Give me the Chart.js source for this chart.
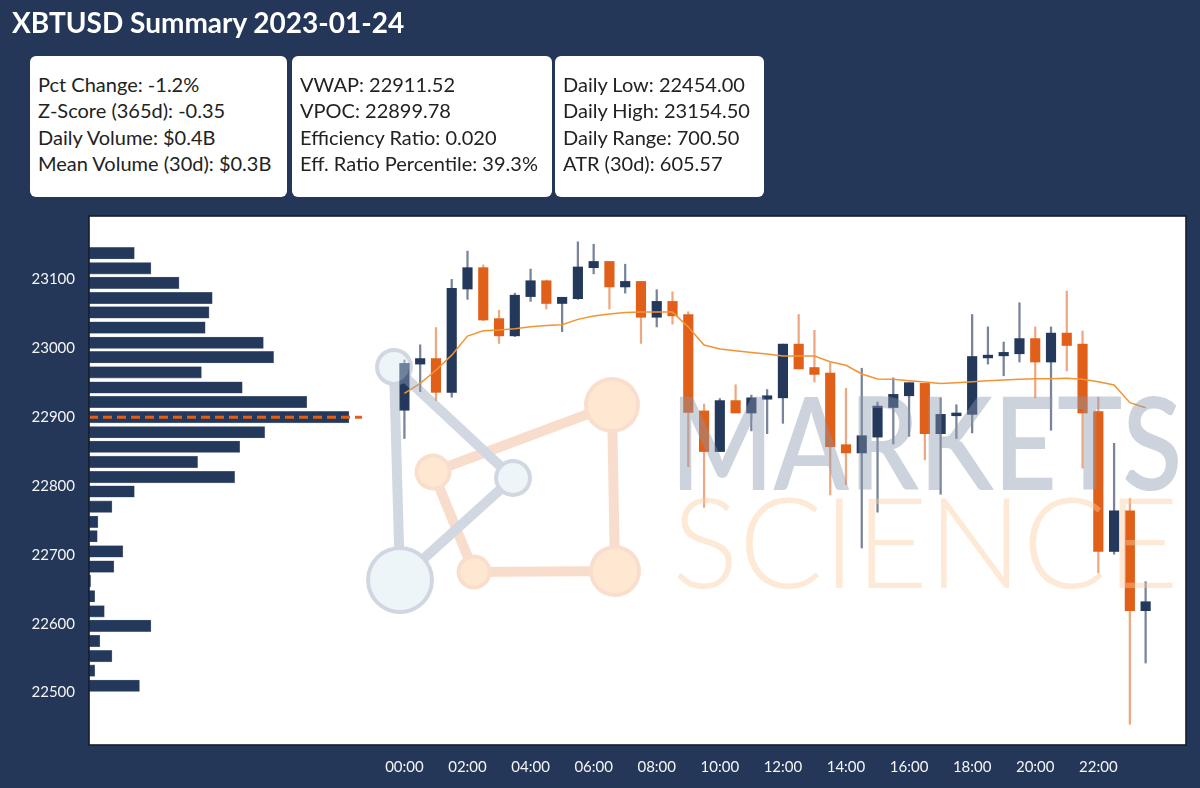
<!DOCTYPE html>
<html><head><meta charset="utf-8">
<script src="https://cdn.jsdelivr.net/npm/chart.js@4.4.0/dist/chart.umd.min.js"></script>
<style>
html,body{margin:0;padding:0;background:#243759;width:1200px;height:788px;overflow:hidden;font-family:Lato,'Open Sans',sans-serif;}
#wrap{position:relative;width:1200px;height:788px;}
#c{position:absolute;left:0;top:0;}
#title{position:absolute;left:12px;top:5px;color:#fff;font-weight:700;font-size:28px;white-space:nowrap;}
.box{position:absolute;top:56px;height:141px;background:#fff;border-radius:6px;box-sizing:border-box;padding:15px 0 0 8px;color:#222;font-size:20px;line-height:26.4px;white-space:nowrap;}
</style></head>
<body><div id="wrap"><canvas id="c" width="1200" height="788"></canvas>
<div id="title">XBTUSD Summary 2023-01-24</div>
<div class="box" id="b1" style="left:30px;width:257px"></div>
<div class="box" id="b2" style="left:292px;width:260px"></div>
<div class="box" id="b3" style="left:555px;width:209px"></div>
</div>
<script>
// ---------- DATA ----------
const statsBox1 = ['Pct Change: -1.2%', 'Z-Score (365d): -0.35', 'Daily Volume: $0.4B', 'Mean Volume (30d): $0.3B'];
const statsBox2 = ['VWAP: 22911.52', 'VPOC: 22899.78', 'Efficiency Ratio: 0.020', 'Eff. Ratio Percentile: 39.3%'];
const statsBox3 = ['Daily Low: 22454.00', 'Daily High: 23154.50', 'Daily Range: 700.50', 'ATR (30d): 605.57'];

const times = ['00:00','00:30','01:00','01:30','02:00','02:30','03:00','03:30','04:00','04:30','05:00','05:30',
  '06:00','06:30','07:00','07:30','08:00','08:30','09:00','09:30','10:00','10:30','11:00','11:30',
  '12:00','12:30','13:00','13:30','14:00','14:30','15:00','15:30','16:00','16:30','17:00','17:30',
  '18:00','18:30','19:00','19:30','20:00','20:30','21:00','21:30','22:00','22:30','23:00','23:30'];
const opens  = [22910,22977,22985,22936,23086,23117,23043,23018,23075,23098,23065,23072,
                23117,23126,23089,23097,23045,23068,23049,22909,22850,22924,22906,22926,
                22928,23006,22972,22964,22860,22848,22871,22914,22931,22949,22876,22902,
                22904,22986,22989,22992,23014,22980,23022,23006,22908,22705,22764,22619];
const highs  = [22983,23005,23030,23100,23141,23121,23055,23080,23115,23099,23074,23154.5,
                23151,23126,23122,23097,23085,23082,23053,22919,22927,22947,22932,22940,
                23006,23049,23026,22979,22942,22971,22922,22957,22950,22949,22928,22918,
                23049,23031,23009,23066,23031,23031,23083,23025,22929,22862,22782,22661];
const lows   = [22869,22937,22924,22929,23071,23040,23007,23017,23068,23057,23024,23071,
                23108,23057,23080,23007,23031,23035,22828,22769,22850,22906,22880,22876,
                22891,22970,22951,22787,22802,22710,22762,22861,22872,22838,22788,22869,
                22877,22977,22960,22980,22928,22881,22967,22826,22674,22701,22454,22543];
const closes = [22978,22985,22936,23087,23117,23041,23018,23077,23098,23065,23074,23118,
                23126,23089,23097,23045,23068,23047,22907,22850,22924,22906,22928,22931,
                23006,22970,22962,22857,22848,22873,22916,22933,22950,22876,22904,22906,
                22988,22990,22994,23014,22980,23022,23004,22906,22705,22764,22619,22632];
const vwap   = [22934.5,22949,22968,22990,23017.7,23025.4,23026.4,23028.3,23031.2,23033.2,23034.1,23041.9,
                23046.7,23049.6,23052,23052.5,23052.5,23052.5,23031,23004.6,22998.8,22996.4,22994,22991.6,
                22988.7,22988.7,22988.7,22980.4,22975.2,22962.6,22955.3,22954.9,22952.8,22951,22949,22950,
                22951.4,22952.8,22953.8,22954.9,22955.8,22955.8,22956.3,22954.9,22951.4,22946.6,22921,22913.7];

// volume profile (price level, $M)
const profilePrices = [23138,23116,23095,23073,23052,23030,23008,22987,22965,22943,22922,22900,
                       22878,22857,22835,22813,22792,22770,22748,22727,22705,22683,22662,22640,
                       22618,22597,22575,22553,22532,22510];
const profileVolumes = [7.1,9.7,14.1,19.3,18.8,18.2,27.3,28.9,17.6,24.0,34.1,40.7,
                        27.5,23.6,17.0,22.8,7.1,3.6,1.4,1.3,5.3,3.9,0.25,0.9,
                        2.4,9.7,1.7,3.6,0.9,7.9];
const vpoc = 22899.78;

const yTicks = [22500,22600,22700,22800,22900,23000,23100];
const xTickLabels = ['00:00','02:00','04:00','06:00','08:00','10:00','12:00','14:00','16:00','18:00','20:00','22:00'];

// ---------- STYLE ----------
const NAVY = '#23385b', ORANGE = '#e0601a';
const NAVY_WICK = 'rgba(35,56,91,0.62)', ORANGE_WICK = 'rgba(224,96,26,0.55)';
const toHours = s => parseInt(s.slice(0,2),10) + parseInt(s.slice(3),10)/60;

[['b1',statsBox1],['b2',statsBox2],['b3',statsBox3]].forEach(([id,arr])=>{
  document.getElementById(id).innerHTML = arr.map(t=>'<div>'+t.replace(/&/g,'&amp;')+'</div>').join('');
});

const tH = times.map(toHours);
const up = opens.map((o,i)=>closes[i] >= o);
const maxVol = Math.max(...profileVolumes);

Chart.defaults.font.family = 'Lato, "Open Sans", sans-serif';

function buildWatermark(){
  const oc = document.createElement('canvas');
  oc.width = 1200; oc.height = 788;
  const g = oc.getContext('2d');
  const line = (a,b,c,d)=>{g.beginPath();g.moveTo(a,b);g.lineTo(c,d);g.stroke();};
  const node = (x,y,r,fill,ring)=>{g.beginPath();g.arc(x,y,r,0,Math.PI*2);g.fillStyle=ring;g.fill();
    g.beginPath();g.arc(x,y,r-4,0,Math.PI*2);g.fillStyle=fill;g.fill();};
  g.lineCap = 'round';
  // orange network
  g.strokeStyle = 'rgb(242,175,136)'; g.lineWidth = 10;
  line(433,472,612,405); line(433,472,474,572); line(474,572,615,571); line(612,405,615,571);
  const oF='rgb(253,202,150)', oR='rgb(245,178,138)';
  node(433,472,18.5,oF,oR); node(474,572,17.5,oF,oR); node(612,405,28,oF,oR); node(615,571,26,oF,oR);
  // gray network
  g.strokeStyle = 'rgb(150,163,184)'; g.lineWidth = 10;
  line(394,367,400,580); line(394,367,513,478); line(513,478,400,580);
  const gF='rgb(214,232,243)', gR='rgb(148,162,185)';
  node(394,367,19,gF,gR); node(513,478,19,gF,gR); node(400,580,34,gF,gR);
  // text
  const txt = (s, weight, color, x0, x1, base, cap)=>{
    const fs = cap/0.7165;
    g.font = weight+' '+fs+'px Lato, "Open Sans", sans-serif';
    const m = g.measureText(s);
    const w = m.actualBoundingBoxLeft + m.actualBoundingBoxRight;
    const sx = (x1-x0)/w;
    g.save(); g.translate(x0, base); g.scale(sx,1);
    g.fillStyle = color; g.textBaseline='alphabetic';
    g.fillText(s, m.actualBoundingBoxLeft, 0);
    g.restore();
  };
  txt('MARKETS', 600, 'rgb(138,151,173)', 679, 1178, 490, 92);
  txt('SCIENCE', 300, 'rgb(253,204,158)', 677, 1173, 588, 90);
  return oc;
}
let wm = null;

const framePlugin = {
  id:'frame',
  beforeDraw(chart){
    const {ctx, chartArea:a} = chart;
    ctx.save(); ctx.fillStyle='#ffffff'; ctx.fillRect(a.left,a.top,a.right-a.left,a.bottom-a.top); ctx.restore();
  },
  afterDatasetsDraw(chart){
    const {ctx, chartArea:a} = chart;
    if(!wm) wm = buildWatermark();
    ctx.save();
    ctx.beginPath(); ctx.rect(a.left,a.top,a.right-a.left,a.bottom-a.top); ctx.clip();
    ctx.globalAlpha = 0.42; ctx.drawImage(wm,0,0);
    ctx.restore();
    ctx.save(); ctx.strokeStyle='#151d2b'; ctx.lineWidth=1.6;
    ctx.strokeRect(a.left,a.top,a.right-a.left,a.bottom-a.top); ctx.restore();
  }
};

new Chart(document.getElementById('c'), {
  type:'bar',
  data:{
    datasets:[
      { type:'bar', label:'Volume profile', indexAxis:'y', xAxisID:'xv', yAxisID:'y',
        data: profilePrices.map((p,i)=>({x:profileVolumes[i], y:p})),
        backgroundColor: NAVY, borderColor:'rgba(90,105,130,0.9)', borderWidth:0.6, borderSkipped:false,
        barThickness:11.5, grouped:false, order:5 },
      { type:'line', label:'VPOC', xAxisID:'xv', yAxisID:'y',
        data:[{x:0,y:vpoc},{x:maxVol*1.05,y:vpoc}],
        borderColor:ORANGE, borderWidth:3, borderDash:[9,5], pointRadius:0, order:4 },
      { type:'bar', label:'Wicks', xAxisID:'x', yAxisID:'y',
        data: tH.map((t,i)=>({x:t, y:[lows[i], highs[i]]})),
        backgroundColor: up.map(u=>u?NAVY_WICK:ORANGE_WICK), barThickness:1.6, grouped:false, order:3 },
      { type:'bar', label:'Bodies', xAxisID:'x', yAxisID:'y',
        data: tH.map((t,i)=>({x:t, y:[opens[i], closes[i]]})),
        backgroundColor: up.map(u=>u?NAVY:ORANGE), barThickness:9.5, minBarLength:1.5, grouped:false, order:2 },
      { type:'line', label:'VWAP', xAxisID:'x', yAxisID:'y',
        data: tH.map((t,i)=>({x:t, y:vwap[i]})),
        borderColor:'#f39433', borderWidth:1.5, pointRadius:0, tension:0, order:1 }
    ]
  },
  options:{
    responsive:false, animation:false, devicePixelRatio:1,
    layout:{padding:{top:216, right:14, bottom:0, left:0}},
    plugins:{legend:{display:false}, tooltip:{enabled:false}},
    scales:{
      x:{ type:'linear', position:'bottom', min:-10, max:24.78, offset:false,
          grid:{display:false, drawTicks:false}, border:{display:false},
          afterBuildTicks: s => { s.ticks = xTickLabels.map(l=>({value:toHours(l)})); },
          afterFit: s => { s.height = 43; },
          ticks:{ color:'#f4f4f4', font:{size:15}, padding:13, autoSkip:false, maxRotation:0,
                  callback:(v)=>{ const i = xTickLabels.findIndex(l=>toHours(l)===v); return i>=0?xTickLabels[i]:''; } } },
      y:{ type:'linear', position:'left', min:22424, max:23192, offset:false,
          grid:{display:false, drawTicks:false}, border:{display:false},
          afterBuildTicks: s => { s.ticks = yTicks.map(v=>({value:v})); },
          afterFit: s => { s.width = 89; },
          ticks:{ color:'#f4f4f4', font:{size:15}, padding:14, callback:v=>String(v) } },
      xv:{ type:'linear', axis:'x', position:'bottom', display:false, min:0, max:maxVol*4.22, offset:false,
           grid:{display:false} }
    }
  },
  plugins:[framePlugin]
});
</script>
</body></html>
